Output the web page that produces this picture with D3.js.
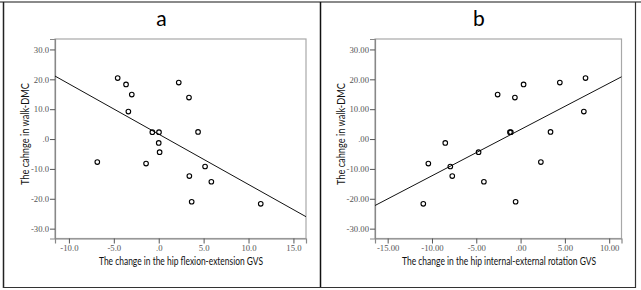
<!DOCTYPE html>
<html>
<head>
<meta charset="utf-8">
<script src="https://cdn.jsdelivr.net/npm/d3@7"></script>
<style>
  body { margin: 0; background: #fff; }
  svg { display: block; }
</style>
</head>
<body>
<svg id="chart" width="641" height="290"></svg>
<script>
// cambio en walk-DMC (mismo sujeto en los dos paneles)
const walkDmc = [20.4, 18.3, 14.9, 9.2, 18.9, 13.9, 2.4, 2.3, 2.3, -1.3, -4.4, -7.7, -8.2, -9.2, -12.4, -14.3, -21.0, -21.7];
// cambio en GVS flexion-extension de cadera (panel a)
const hipFlexExt = [-4.57, -3.64, -3.0, -3.38, 2.23, 3.37, 4.38, -0.71, 0.03, 0.0, 0.1, -6.84, -1.41, 5.16, 3.41, 5.86, 3.67, 11.36];
// cambio en GVS rotacion interna-externa (panel b)
const hipRotation = [7.33, 0.34, -2.59, 7.14, 4.43, -0.64, 3.38, -1.2, -1.1, -8.5, -4.74, 2.29, -10.41, -7.93, -7.71, -4.14, -0.56, -10.98];

const yTickValues = [30, 20, 10, 0, -10, -20, -30];
const yTickLabelsA = ["30.0", "20.0", "10.0", ".0", "-10.0", "-20.0", "-30.0"];
const yTickLabelsB = ["30.00", "20.00", "10.00", ".00", "-10.00", "-20.00", "-30.00"];
const xTickValuesA = [-10, -5, 0, 5, 10, 15];
const xTickLabelsA = ["-10.0", "-5.0", ".0", "5.0", "10.0", "15.0"];
const xTickValuesB = [-15, -10, -5, 0, 5, 10];
const xTickLabelsB = ["-15.00", "-10.00", "-5.00", ".00", "5.00", "10.00"];

const svg = d3.select("#chart");

// marco exterior
svg.append("line").attr("x1", 0).attr("x2", 641).attr("y1", 2).attr("y2", 2)
   .attr("stroke", "#8a8a8a").attr("stroke-width", 2);
svg.append("line").attr("x1", 3.5).attr("x2", 3.5).attr("y1", 2).attr("y2", 288)
   .attr("stroke", "#222").attr("stroke-width", 1.5);
svg.append("line").attr("x1", 320.5).attr("x2", 320.5).attr("y1", 2).attr("y2", 288)
   .attr("stroke", "#111").attr("stroke-width", 1.5);
svg.append("line").attr("x1", 635.5).attr("x2", 635.5).attr("y1", 2).attr("y2", 288)
   .attr("stroke", "#333").attr("stroke-width", 1.2);
svg.append("line").attr("x1", 3).attr("x2", 636).attr("y1", 287.5).attr("y2", 287.5)
   .attr("stroke", "#333").attr("stroke-width", 1.2);

const panels = [
  { letter: "a", xs: hipFlexExt, left: 55, right: 306, xDomain: [-11.55, 16.4],
    xTicks: xTickValuesA, xLabels: xTickLabelsA, yLabels: yTickLabelsA,
    titleX: 161.5, yLabelX: 25.5,
    xTitle: "The change in the hip flexion-extension GVS", xTitleX: 181, xTitleLen: 164 },
  { letter: "b", xs: hipRotation, left: 375, right: 621.5, xDomain: [-16.43, 11.39],
    xTicks: xTickValuesB, xLabels: xTickLabelsB, yLabels: yTickLabelsB,
    titleX: 479, yLabelX: 341,
    xTitle: "The change in the hip internal-external rotation GVS", xTitleX: 499, xTitleLen: 194 }
];

const plotTop = 39, plotBottom = 238.5;

panels.forEach(p => {
  const x = d3.scaleLinear().domain(p.xDomain).range([p.left, p.right]);
  const y = d3.scaleLinear().domain([-33.3, 33.5]).range([plotBottom, plotTop]);
  const g = svg.append("g");

  // caja del area de trazado
  g.append("rect")
   .attr("x", p.left).attr("y", plotTop)
   .attr("width", p.right - p.left).attr("height", plotBottom - plotTop)
   .attr("fill", "none").attr("stroke", "#a8a8a8").attr("stroke-width", 1.2);

  const yAxis = g.append("g")
    .attr("transform", `translate(${p.left},0)`)
    .call(d3.axisLeft(y).tickValues(yTickValues).tickSize(5).tickPadding(1)
      .tickFormat((d, i) => p.yLabels[i]));
  const xAxis = g.append("g")
    .attr("transform", `translate(0,${plotBottom})`)
    .call(d3.axisBottom(x).tickValues(p.xTicks).tickSize(5).tickPadding(1)
      .tickFormat((d, i) => p.xLabels[i]));

  [yAxis, xAxis].forEach(ax => {
    ax.select(".domain").attr("stroke", "#888").attr("stroke-width", 1.2);
    ax.selectAll(".tick line").attr("stroke", "#555");
    ax.selectAll(".tick text")
      .attr("fill", "#555")
      .style("font-family", "'Liberation Serif', serif")
      .style("font-size", "8.7px");
  });

  // recta de regresion (minimos cuadrados)
  const mx = d3.mean(p.xs), my = d3.mean(walkDmc);
  const sxy = d3.sum(p.xs, (v, i) => (v - mx) * (walkDmc[i] - my));
  const sxx = d3.sum(p.xs, v => (v - mx) * (v - mx));
  const slope = sxy / sxx, intercept = my - slope * mx;
  const x0 = p.xDomain[0], x1 = p.xDomain[1];
  g.append("line")
   .attr("x1", x(x0)).attr("y1", y(intercept + slope * x0))
   .attr("x2", x(x1)).attr("y2", y(intercept + slope * x1))
   .attr("stroke", "#111").attr("stroke-width", 1);

  g.selectAll("circle.pt")
   .data(p.xs.map((v, i) => ({ x: v, y: walkDmc[i] })))
   .join("circle")
   .attr("class", "pt")
   .attr("cx", d => x(d.x)).attr("cy", d => y(d.y))
   .attr("r", 2.3)
   .attr("fill", "none").attr("stroke", "#000").attr("stroke-width", 1.1);

  // titulos
  g.append("text")
   .attr("x", p.titleX).attr("y", 26)
   .attr("text-anchor", "middle")
   .style("font-family", "Lato, 'Open Sans', sans-serif")
   .style("font-size", "21px")
   .text(p.letter);

  g.append("text")
   .attr("x", p.xTitleX).attr("y", 264.5)
   .attr("text-anchor", "middle")
   .attr("textLength", p.xTitleLen)
   .attr("lengthAdjust", "spacingAndGlyphs")
   .style("font-family", "Lato, 'Open Sans', sans-serif")
   .style("font-size", "10.5px")
   .attr("fill", "#111")
   .text(p.xTitle);

  g.append("text")
   .attr("transform", `translate(${p.yLabelX},134) rotate(-90)`)
   .attr("text-anchor", "middle")
   .attr("dy", "0.35em")
   .attr("textLength", 102)
   .attr("lengthAdjust", "spacingAndGlyphs")
   .style("font-family", "Lato, 'Open Sans', sans-serif")
   .style("font-size", "10.5px")
   .attr("fill", "#111")
   .text("The cahnge in walk-DMC");
});
</script>
</body>
</html>
